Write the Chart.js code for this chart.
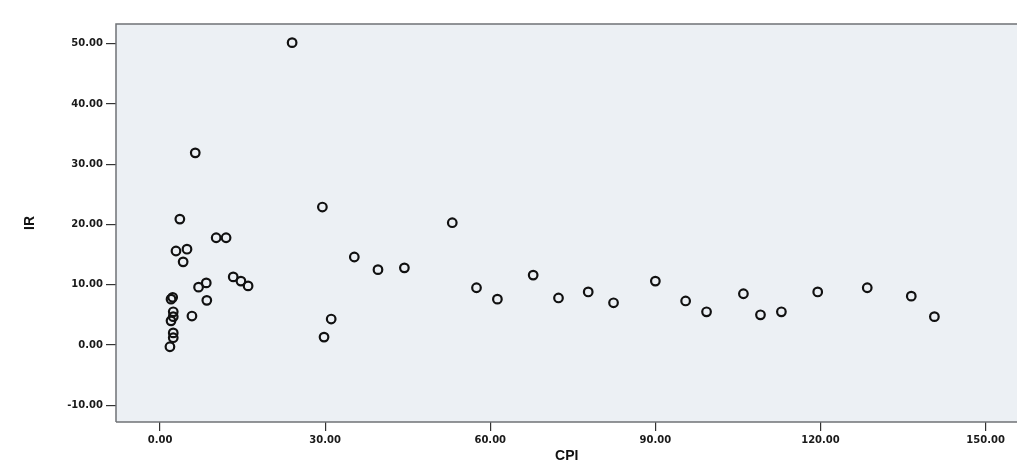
<!DOCTYPE html>
<html>
<head>
<meta charset="utf-8">
<script src="https://cdn.jsdelivr.net/npm/chart.js@4/dist/chart.umd.min.js"></script>
<style>
html,body{margin:0;padding:0;background:#fff;overflow:hidden;}
#wrap{width:1017px;height:460px;overflow:hidden;}
</style>
</head>
<body>
<div id="wrap"><canvas id="c" width="1024" height="460"></canvas></div>
<script>
const cpi = [24.0, 6.4, 3.6, 29.5, 53.1, 10.2, 12.0, 2.9, 4.9, 4.2, 35.3, 39.6, 44.4, 13.3, 14.7, 16.0, 7.0, 8.4, 8.5, 5.8, 2.0, 2.3, 2.4, 2.4, 2.0, 2.4, 2.4, 1.8, 31.1, 29.8, 57.5, 61.3, 67.8, 72.4, 77.8, 82.4, 90.0, 95.5, 99.3, 106.0, 109.1, 112.9, 119.5, 128.5, 136.5, 140.7];
const ir  = [50.2, 31.9, 20.9, 22.9, 20.3, 17.8, 17.8, 15.6, 15.9, 13.8, 14.6, 12.5, 12.8, 11.3, 10.6, 9.8, 9.6, 10.3, 7.4, 4.8, 7.6, 7.9, 5.5, 4.7, 4.0, 2.0, 1.2, -0.3, 4.3, 1.3, 9.5, 7.6, 11.6, 7.8, 8.8, 7.0, 10.6, 7.3, 5.5, 8.5, 5.0, 5.5, 8.8, 9.5, 8.1, 4.7];
const xTicks = [0, 30, 60, 90, 120, 150];
const yTicks = [-10, 0, 10, 20, 30, 40, 50];
const xTitle = "CPI";
const yTitle = "IR";

const points = cpi.map((v, i) => ({x: v, y: ir[i]}));

const areaPlugin = {
  id: 'areaPlugin',
  beforeDraw(chart) {
    const {ctx, chartArea: a} = chart;
    ctx.save();
    ctx.fillStyle = '#ecf0f4';
    ctx.fillRect(a.left, a.top, a.right - a.left, a.bottom - a.top);
    ctx.restore();
  },
  afterDatasetsDraw(chart) {
    const {ctx, chartArea: a} = chart;
    ctx.save();
    ctx.strokeStyle = '#6f7276';
    ctx.lineWidth = 1.5;
    ctx.beginPath();
    ctx.moveTo(a.left, a.bottom);
    ctx.lineTo(a.left, a.top);
    ctx.lineTo(a.right + 2, a.top);
    ctx.stroke();
    ctx.beginPath();
    ctx.moveTo(a.left, a.bottom);
    ctx.lineTo(a.right + 2, a.bottom);
    ctx.stroke();
    ctx.restore();
  }
};

const tickFont = {family: 'DejaVu Sans', size: 10, weight: 'bold'};

new Chart(document.getElementById('c'), {
  type: 'scatter',
  data: {
    datasets: [{
      data: points,
      pointStyle: 'circle',
      pointRadius: 4.3,
      pointBorderWidth: 2.2,
      borderColor: '#111',
      backgroundColor: 'rgba(0,0,0,0)',
      pointHoverRadius: 4.3
    }]
  },
  options: {
    responsive: false,
    animation: false,
    events: [],
    layout: {padding: {left: 18, top: 24, right: 0, bottom: 0}},
    plugins: {legend: {display: false}, tooltip: {enabled: false}},
    scales: {
      x: {
        type: 'linear',
        min: -8,
        max: 155.8,
        afterBuildTicks(s) { s.ticks = xTicks.map(v => ({value: v})); },
        afterFit(s) { s.height = 38; },
        ticks: {
          color: '#1a1a1a',
          font: tickFont,
          padding: 3,
          maxRotation: 0,
          autoSkip: false,
          callback: v => Number(v).toFixed(2)
        },
        grid: {drawOnChartArea: false, drawTicks: true, tickLength: 9, color: '#333', lineWidth: 1.2},
        border: {display: false},
        title: {display: true, text: xTitle, color: '#111', font: {family: 'Liberation Sans', size: 14, weight: 'bold'}, padding: {top: 0, bottom: -5}}
      },
      y: {
        type: 'linear',
        min: -12.8,
        max: 53.3,
        afterBuildTicks(s) { s.ticks = yTicks.map(v => ({value: v})); },
        afterFit(s) { s.width = 98; },
        ticks: {
          color: '#1a1a1a',
          font: tickFont,
          padding: 3,
          autoSkip: false,
          callback: v => Number(v).toFixed(2)
        },
        grid: {drawOnChartArea: false, drawTicks: true, tickLength: 10, color: '#333', lineWidth: 1.2},
        border: {display: false},
        title: {display: true, text: yTitle, color: '#111', font: {family: 'Liberation Sans', size: 14, weight: 'bold'}, padding: {top: 4, bottom: 4}}
      }
    }
  },
  plugins: [areaPlugin]
});
</script>
</body>
</html>
